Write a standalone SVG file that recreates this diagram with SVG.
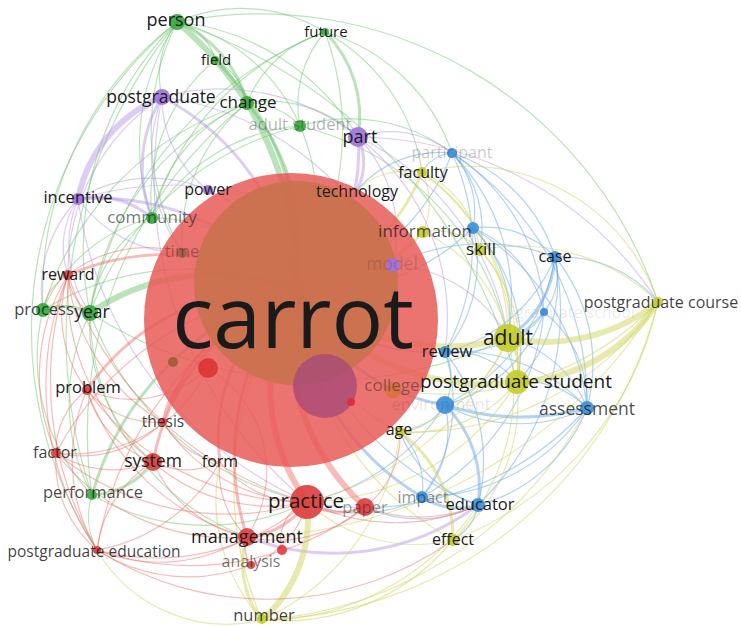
<svg xmlns="http://www.w3.org/2000/svg" width="741" height="626" viewBox="0 0 741 626">
<style>
#edges path{fill:none;stroke-linecap:round}
.r{stroke:#ee6a63;stroke-width:1.2;opacity:.45}
.g{stroke:#66c266;stroke-width:1.2;opacity:.45}
.b{stroke:#6aa8e6;stroke-width:1.2;opacity:.5}
.y{stroke:#cfd65a;stroke-width:1.2;opacity:.5}
.p{stroke:#b48ee6;stroke-width:1.2;opacity:.45}
#edges path.m{stroke-width:3}
#edges path.t{stroke-width:6}
.l{font-family:"Open Sans","Liberation Sans",sans-serif;fill:#1a1a1a;text-anchor:middle}
.nr{fill:#dd3c3c;opacity:.9}
.ng{fill:#34a83c;opacity:.9}
.nb{fill:#3a8ed8;opacity:.9}
.ny{fill:#c5cc28;opacity:.9}
.np{fill:#a072dc;opacity:.9}
</style>
<rect width="741" height="626" fill="#fff"/>
<g id="edges">
<g>
<path class="g" d="M177 22A50 50 0 0 1 215 60"/>
<path class="g m" d="M177 22A120 120 0 0 1 247 103"/>
<path class="g" d="M177 22A180 180 0 0 1 300 126"/>
<path class="g" d="M177 22A160 160 0 0 1 325 32"/>
<path class="g" d="M152 218A220 220 0 0 1 177 22"/>
<path class="g" d="M90 313A320 320 0 0 1 177 22"/>
<path class="g" d="M43 310A340 340 0 0 1 177 22"/>
<path class="g" d="M162 97A90 90 0 0 1 177 22"/>
<path class="g" d="M182 253A250 250 0 0 1 177 22"/>
<path class="g" d="M92 495A500 500 0 0 1 177 22"/>
<path class="g" d="M177 22A520 520 0 0 1 517 382"/>
<path class="g" d="M177 22A240 240 0 0 1 358 137"/>
<path class="g" d="M177 22A420 420 0 0 1 658 302"/>
<path class="g" d="M97 550A400 400 0 0 1 177 22"/>
<path class="g" d="M247 103A120 120 0 0 1 325 32"/>
<path class="g" d="M300 126A110 110 0 0 1 325 32"/>
<path class="g m" d="M325 32A120 120 0 0 1 358 137"/>
<path class="g" d="M152 218A280 280 0 0 1 325 32"/>
<path class="g" d="M90 313A380 380 0 0 1 325 32"/>
<path class="g" d="M325 32A190 190 0 0 1 422 172"/>
<path class="g" d="M325 32A190 190 0 0 1 452 153"/>
<path class="g" d="M215 60A60 60 0 0 1 247 103"/>
<path class="g" d="M152 218A180 180 0 0 1 215 60"/>
<path class="g" d="M247 103A70 70 0 0 1 300 126"/>
<path class="g" d="M152 218A160 160 0 0 1 247 103"/>
<path class="g" d="M90 313A270 270 0 0 1 247 103"/>
<path class="g" d="M43 310A310 310 0 0 1 247 103"/>
<path class="g" d="M92 495A420 420 0 0 1 247 103"/>
<path class="g" d="M182 253A180 180 0 0 1 247 103"/>
<path class="g" d="M247 103A130 130 0 0 1 358 137"/>
<path class="g" d="M152 218A190 190 0 0 1 300 126"/>
<path class="g" d="M90 313A300 300 0 0 1 300 126"/>
<path class="g" d="M300 126A170 170 0 0 1 452 153"/>
<path class="g m" d="M43 310A60 60 0 0 1 90 313"/>
<path class="g" d="M92 495A200 200 0 0 1 90 313"/>
<path class="g" d="M153 462A180 180 0 0 1 90 313"/>
<path class="g" d="M307 502A300 300 0 0 1 90 313"/>
<path class="g" d="M92 495A200 200 0 0 1 43 310"/>
<path class="g" d="M43 310A160 160 0 0 1 152 218"/>
<path class="g m" d="M153 462A80 80 0 0 1 92 495"/>
<path class="g" d="M97 550A70 70 0 0 1 92 495"/>
<path class="g" d="M90 313A130 130 0 0 1 152 218"/>
<path class="g" d="M300 126A280 280 0 0 1 508 338"/>
<path class="g" d="M508 338A430 430 0 0 1 90 313"/>
<path class="g" d="M247 537A240 240 0 0 1 90 313"/>
<path class="g" d="M307 502A230 230 0 0 1 92 495"/>
<path class="g t" d="M177 22A330 330 0 0 1 295 290"/>
<path class="g" d="M325 32A290 290 0 0 1 295 290"/>
<path class="g m" d="M215 60A270 270 0 0 1 295 290"/>
<path class="g m" d="M247 103A220 220 0 0 1 295 290"/>
<path class="g" d="M300 126A190 190 0 0 1 295 290"/>
<path class="g t" d="M90 313A220 220 0 0 1 295 290"/>
<path class="g" d="M152 218A180 180 0 0 1 295 290"/>
<path class="g m" d="M92 495A300 300 0 0 1 295 290"/>
<path class="g" d="M43 310A280 280 0 0 1 295 290"/>
</g>
<g>
<path class="p t" d="M78 199A140 140 0 0 1 162 97"/>
<path class="p" d="M208 190A115 115 0 0 1 162 97"/>
<path class="p m" d="M152 218A135 135 0 0 1 162 97"/>
<path class="p m" d="M162 97A250 250 0 0 1 295 290"/>
<path class="p" d="M162 97A220 220 0 0 1 358 137"/>
<path class="p" d="M182 253A170 170 0 0 1 162 97"/>
<path class="p" d="M162 97A300 300 0 0 1 393 265"/>
<path class="p" d="M68 275A210 210 0 0 1 162 97"/>
<path class="p m" d="M78 199A85 85 0 0 1 152 218"/>
<path class="p" d="M68 275A85 85 0 0 1 78 199"/>
<path class="p" d="M43 310A130 130 0 0 1 78 199"/>
<path class="p m" d="M78 199A260 260 0 0 1 295 290"/>
<path class="p" d="M78 199A140 140 0 0 1 208 190"/>
<path class="p" d="M182 253A130 130 0 0 1 78 199"/>
<path class="p" d="M78 199A340 340 0 0 1 393 265"/>
<path class="p" d="M358 137A140 140 0 0 1 393 265"/>
<path class="p" d="M358 137A100 100 0 0 1 452 153"/>
<path class="p m" d="M358 137A60 60 0 0 1 357 190"/>
<path class="p m" d="M358 137A180 180 0 0 1 295 290"/>
<path class="p" d="M358 137A360 360 0 0 1 658 302"/>
<path class="p" d="M358 137A270 270 0 0 1 508 338"/>
<path class="p" d="M208 190A150 150 0 0 1 295 290"/>
<path class="p" d="M393 265A140 140 0 0 1 508 338"/>
<path class="p" d="M307 502A420 420 0 0 1 162 97"/>
<path class="p" d="M307 502A390 390 0 0 1 78 199"/>
<path class="p m" d="M478 505A240 240 0 0 1 247 537"/>
<path class="p" d="M90 313A120 120 0 0 1 78 199"/>
<path class="p" d="M358 137A230 230 0 0 1 445 352"/>
</g>
<g>
<path class="b" d="M422 172A40 40 0 0 1 452 153"/>
<path class="b" d="M452 153A85 85 0 0 1 473 228"/>
<path class="b" d="M452 153A160 160 0 0 1 555 257"/>
<path class="b" d="M452 153A110 110 0 0 1 480 250"/>
<path class="b" d="M452 153A200 200 0 0 1 544 312"/>
<path class="b" d="M452 153A220 220 0 0 1 445 352"/>
<path class="b" d="M452 153A220 220 0 0 1 295 290"/>
<path class="b" d="M452 153A300 300 0 0 1 587 408"/>
<path class="b" d="M452 153A210 210 0 0 1 508 338"/>
<path class="b" d="M357 190A110 110 0 0 1 452 153"/>
<path class="b" d="M473 228A95 95 0 0 1 555 257"/>
<path class="b" d="M473 228A120 120 0 0 1 544 312"/>
<path class="b" d="M473 228A140 140 0 0 1 445 352"/>
<path class="b" d="M473 228A125 125 0 0 1 508 338"/>
<path class="b" d="M473 228A170 170 0 0 1 517 382"/>
<path class="b" d="M473 228A240 240 0 0 1 587 408"/>
<path class="b" d="M473 228A220 220 0 0 1 295 290"/>
<path class="b" d="M555 257A60 60 0 0 1 544 312"/>
<path class="b m" d="M555 257A105 105 0 0 1 508 338"/>
<path class="b" d="M555 257A140 140 0 0 1 517 382"/>
<path class="b" d="M555 257A170 170 0 0 1 587 408"/>
<path class="b" d="M555 257A160 160 0 0 1 445 352"/>
<path class="b" d="M555 257A200 200 0 0 1 445 405"/>
<path class="b" d="M555 257A270 270 0 0 1 478 505"/>
<path class="b" d="M555 257A125 125 0 0 1 658 302"/>
<path class="b" d="M544 312A115 115 0 0 1 445 352"/>
<path class="b" d="M544 312A145 145 0 0 1 445 405"/>
<path class="b" d="M544 312A115 115 0 0 1 587 408"/>
<path class="b" d="M544 312A55 55 0 0 1 508 338"/>
<path class="b" d="M544 312A240 240 0 0 1 422 497"/>
<path class="b" d="M445 352A60 60 0 0 1 445 405"/>
<path class="b" d="M445 352A85 85 0 0 1 517 382"/>
<path class="b" d="M445 352A175 175 0 0 1 587 408"/>
<path class="b" d="M445 352A175 175 0 0 1 478 505"/>
<path class="b" d="M445 352A160 160 0 0 1 422 497"/>
<path class="b" d="M445 352A180 180 0 0 1 295 290"/>
<path class="b m" d="M587 408A250 250 0 0 1 445 405"/>
<path class="b" d="M587 408A155 155 0 0 1 445 405"/>
<path class="b m" d="M445 405A115 115 0 0 1 478 505"/>
<path class="b" d="M445 405A100 100 0 0 1 422 497"/>
<path class="b" d="M445 405A60 60 0 0 1 400 432"/>
<path class="b m" d="M445 405A200 200 0 0 1 295 290"/>
<path class="b" d="M587 408A160 160 0 0 1 478 505"/>
<path class="b" d="M587 408A200 200 0 0 1 422 497"/>
<path class="b" d="M517 382A85 85 0 0 1 587 408"/>
<path class="b" d="M508 338A115 115 0 0 1 587 408"/>
<path class="b m" d="M478 505A65 65 0 0 1 422 497"/>
<path class="b" d="M478 505A50 50 0 0 1 453 540"/>
<path class="b" d="M478 505A125 125 0 0 1 400 432"/>
<path class="b" d="M478 505A290 290 0 0 1 295 290"/>
<path class="b m" d="M422 497A260 260 0 0 1 295 290"/>
<path class="b" d="M422 497A130 130 0 0 1 307 502"/>
<path class="b" d="M400 432A75 75 0 0 1 422 497"/>
<path class="b" d="M587 408A300 300 0 0 1 307 502"/>
<path class="b" d="M478 505A130 130 0 0 1 365 507"/>
<path class="b" d="M393 265A200 200 0 0 1 555 257"/>
<path class="b" d="M445 405A220 220 0 0 1 307 502"/>
</g>
<g>
<path class="y" d="M422 172A70 70 0 0 1 423 232"/>
<path class="y" d="M422 172A100 100 0 0 1 480 250"/>
<path class="y" d="M422 172A200 200 0 0 1 508 338"/>
<path class="y m" d="M422 172A200 200 0 0 1 295 290"/>
<path class="y" d="M422 172A240 240 0 0 1 517 382"/>
<path class="y" d="M357 190A75 75 0 0 1 422 172"/>
<path class="y" d="M423 232A60 60 0 0 1 480 250"/>
<path class="y" d="M423 232A150 150 0 0 1 508 338"/>
<path class="y m" d="M423 232A170 170 0 0 1 295 290"/>
<path class="y" d="M480 250A105 105 0 0 1 508 338"/>
<path class="y" d="M480 250A150 150 0 0 1 517 382"/>
<path class="y" d="M480 250A200 200 0 0 1 658 302"/>
<path class="y t" d="M658 302A180 180 0 0 1 508 338"/>
<path class="y t" d="M658 302A175 175 0 0 1 517 382"/>
<path class="y m" d="M508 338A50 50 0 0 1 517 382"/>
<path class="y t" d="M508 338A230 230 0 0 1 295 290"/>
<path class="y t" d="M517 382A240 240 0 0 1 295 290"/>
<path class="y" d="M508 338A160 160 0 0 1 400 432"/>
<path class="y" d="M517 382A135 135 0 0 1 400 432"/>
<path class="y m" d="M400 432A130 130 0 0 1 453 540"/>
<path class="y" d="M400 432A240 240 0 0 1 262 620"/>
<path class="y" d="M453 540A220 220 0 0 1 262 620"/>
<path class="y" d="M453 540A310 310 0 0 1 295 290"/>
<path class="y" d="M453 540A160 160 0 0 1 307 502"/>
<path class="y" d="M517 382A180 180 0 0 1 453 540"/>
<path class="y" d="M508 338A220 220 0 0 1 453 540"/>
<path class="y t" d="M307 502A135 135 0 0 1 262 620"/>
<path class="y m" d="M262 620A90 90 0 0 1 247 537"/>
<path class="y" d="M262 620A340 340 0 0 1 295 290"/>
<path class="y" d="M262 620A180 180 0 0 1 220 462"/>
<path class="y" d="M262 620A150 150 0 0 1 97 550"/>
<path class="y" d="M658 302A420 420 0 0 1 262 620"/>
<path class="y" d="M587 408A400 400 0 0 1 262 620"/>
<path class="y" d="M658 302A300 300 0 0 1 400 432"/>
<path class="y" d="M658 302A330 330 0 0 1 453 540"/>
<path class="y" d="M658 302A300 300 0 0 1 393 390"/>
<path class="y" d="M422 172A200 200 0 0 1 658 302"/>
<path class="y" d="M478 505A260 260 0 0 1 262 620"/>
<path class="y" d="M517 382A250 250 0 0 1 307 502"/>
<path class="y" d="M508 338A300 300 0 0 1 307 502"/>
<path class="y" d="M400 432A190 190 0 0 1 295 290"/>
<path class="y" d="M658 302A500 500 0 0 1 247 537"/>
</g>
<g>
<path class="r" d="M43 310A50 50 0 0 1 68 275"/>
<path class="r" d="M90 313A50 50 0 0 1 68 275"/>
<path class="r" d="M87 390A125 125 0 0 1 68 275"/>
<path class="r" d="M56 453A190 190 0 0 1 68 275"/>
<path class="r" d="M153 462A220 220 0 0 1 68 275"/>
<path class="r m" d="M68 275A250 250 0 0 1 295 290"/>
<path class="r" d="M97 550A290 290 0 0 1 68 275"/>
<path class="r" d="M163 422A190 190 0 0 1 68 275"/>
<path class="r" d="M68 275A125 125 0 0 1 182 253"/>
<path class="r" d="M56 453A75 75 0 0 1 87 390"/>
<path class="r" d="M153 462A105 105 0 0 1 87 390"/>
<path class="r" d="M163 422A90 90 0 0 1 87 390"/>
<path class="r m" d="M87 390A230 230 0 0 1 295 290"/>
<path class="r" d="M97 550A175 175 0 0 1 87 390"/>
<path class="r" d="M307 502A270 270 0 0 1 87 390"/>
<path class="r" d="M247 537A235 235 0 0 1 87 390"/>
<path class="r" d="M97 550A115 115 0 0 1 56 453"/>
<path class="r" d="M153 462A105 105 0 0 1 56 453"/>
<path class="r" d="M247 537A220 220 0 0 1 56 453"/>
<path class="r" d="M307 502A270 270 0 0 1 56 453"/>
<path class="r" d="M56 453A310 310 0 0 1 295 290"/>
<path class="r" d="M163 422A115 115 0 0 1 56 453"/>
<path class="r" d="M220 462A75 75 0 0 1 153 462"/>
<path class="r" d="M307 502A175 175 0 0 1 153 462"/>
<path class="r" d="M247 537A130 130 0 0 1 153 462"/>
<path class="r" d="M97 550A120 120 0 0 1 153 462"/>
<path class="r m" d="M153 462A230 230 0 0 1 295 290"/>
<path class="r" d="M220 462A80 80 0 0 1 163 422"/>
<path class="r" d="M307 502A175 175 0 0 1 163 422"/>
<path class="r m" d="M163 422A200 200 0 0 1 295 290"/>
<path class="r" d="M247 537A165 165 0 0 1 97 550"/>
<path class="r" d="M307 502A230 230 0 0 1 97 550"/>
<path class="r" d="M251 565A170 170 0 0 1 97 550"/>
<path class="r" d="M365 507A290 290 0 0 1 97 550"/>
<path class="r" d="M220 462A175 175 0 0 1 97 550"/>
<path class="r" d="M97 550A350 350 0 0 1 295 290"/>
<path class="r m" d="M307 502A80 80 0 0 1 247 537"/>
<path class="r" d="M251 565A30 30 0 0 1 247 537"/>
<path class="r" d="M365 507A135 135 0 0 1 247 537"/>
<path class="r m" d="M247 537A260 260 0 0 1 295 290"/>
<path class="r" d="M247 537A90 90 0 0 1 220 462"/>
<path class="r m" d="M365 507A60 60 0 0 1 307 502"/>
<path class="r t" d="M307 502A200 200 0 0 1 295 290"/>
<path class="r" d="M307 502A105 105 0 0 1 220 462"/>
<path class="r t" d="M365 507A230 230 0 0 1 295 290"/>
<path class="r" d="M400 432A90 90 0 0 1 365 507"/>
<path class="r" d="M307 502A90 90 0 0 1 251 565"/>
<path class="r m" d="M220 462A180 180 0 0 1 295 290"/>
<path class="r" d="M182 253A125 125 0 0 1 295 290"/>
<path class="r" d="M307 502A350 350 0 0 1 68 275"/>
<path class="r" d="M453 540A320 320 0 0 1 97 550"/>
<path class="r" d="M478 505A150 150 0 0 1 365 507"/>
<path class="r" d="M478 505A200 200 0 0 1 307 502"/>
<path class="r" d="M282 550A40 40 0 0 1 307 502"/>
<path class="r" d="M208 368A120 120 0 0 1 247 537"/>
<path class="r" d="M208 368A110 110 0 0 1 87 390"/>
<path class="r" d="M208 368A150 150 0 0 1 56 453"/>
<path class="r" d="M163 422A60 60 0 0 1 208 368"/>
<path class="r" d="M97 550A330 330 0 0 1 68 275"/>
</g>
</g>
<g id="node-carrot">
<circle cx="291" cy="320" r="147" fill="#e85a57" opacity=".85"/>
<circle cx="296" cy="283" r="102" fill="#c8724c" opacity=".88"/>
<circle cx="325" cy="386" r="32" fill="#a84a78" opacity=".8"/>
<circle cx="208" cy="368" r="10" fill="#dd3434" opacity=".9"/>
<circle cx="173" cy="362" r="5" fill="#a35a3a" opacity=".9"/>
<circle cx="351" cy="402" r="4" fill="#e02a3a" opacity=".9"/>
<text class="l" x="293" y="348" font-size="86">carrot</text>
</g>
<g id="node-person"><circle class="ng" cx="177" cy="22" r="8"/><text class="l" x="176" y="26" font-size="18">person</text></g>
<g id="node-field"><circle class="ng" cx="215" cy="60" r="4"/><text class="l" x="216" y="65" font-size="15">field</text></g>
<g id="node-future"><circle class="ng" cx="325" cy="32" r="4"/><text class="l" x="326" y="37" font-size="15">future</text></g>
<g id="node-postgraduate"><circle class="np" cx="162" cy="97" r="8"/><text class="l" x="161" y="103" font-size="17.5">postgraduate</text></g>
<g id="node-change"><circle class="ng" cx="247" cy="103" r="7"/><text class="l" x="248" y="108" font-size="17">change</text></g>
<g id="node-adult-student"><circle class="ng" cx="300" cy="126" r="6"/><text class="l" x="300" y="130" font-size="16.5" fill-opacity=".35">adult student</text></g>
<g id="node-part"><circle class="np" cx="358" cy="137" r="10"/><text class="l" x="360" y="143" font-size="18">part</text></g>
<g id="node-participant"><circle class="nb" cx="452" cy="153" r="5"/><text class="l" x="452" y="158" font-size="16" fill-opacity=".25">participant</text></g>
<g id="node-faculty"><circle class="ny" cx="422" cy="172" r="5"/><text class="l" x="423" y="178" font-size="16">faculty</text></g>
<g id="node-technology"><text class="l" x="357" y="197" font-size="16">technology</text></g>
<g id="node-power"><circle class="np" cx="208" cy="190" r="5" opacity=".4"/><text class="l" x="208" y="195" font-size="16">power</text></g>
<g id="node-incentive"><circle class="np" cx="78" cy="199" r="6"/><text class="l" x="78" y="203" font-size="16.5">incentive</text></g>
<g id="node-community"><circle class="ng" cx="152" cy="218" r="6"/><text class="l" x="152" y="223" font-size="17" fill-opacity=".62">community</text></g>
<g id="node-time"><circle cx="182" cy="253" r="5" fill="#8a5a3a" opacity=".7"/><text class="l" x="182" y="257" font-size="16.5" fill-opacity=".38">time</text></g>
<g id="node-information"><circle class="ny" cx="423" cy="232" r="6"/><circle class="nb" cx="473" cy="228" r="6"/><text class="l" x="425" y="237" font-size="17" fill-opacity=".75">information</text></g>
<g id="node-skill"><circle class="ny" cx="480" cy="250" r="6"/><text class="l" x="481" y="255" font-size="17">skill</text></g>
<g id="node-case"><circle class="nb" cx="555" cy="257" r="6"/><text class="l" x="555" y="262" font-size="16">case</text></g>
<g id="node-model"><circle class="np" cx="393" cy="265" r="7" opacity=".35"/><text class="l" x="392" y="270" font-size="17.5" fill-opacity=".18">model</text></g>
<g id="node-reward"><circle class="nr" cx="68" cy="275" r="5"/><text class="l" x="68" y="280" font-size="16">reward</text></g>
<g id="node-graduate-school"><circle class="nb" cx="544" cy="312" r="4"/><text class="l" x="575" y="318" font-size="16" fill-opacity=".1">graduate school</text></g>
<g id="node-postgraduate-course"><circle class="ny" cx="658" cy="302" r="5"/><text class="l" x="661" y="308" font-size="16" fill-opacity=".85">postgraduate course</text></g>
<g id="node-process"><circle class="ng" cx="43" cy="310" r="7"/><text class="l" x="44" y="315" font-size="16.5" fill-opacity=".85">process</text></g>
<g id="node-year"><circle class="ng" cx="90" cy="313" r="8"/><text class="l" x="92" y="318" font-size="17.5">year</text></g>
<g id="node-adult"><circle class="ny" cx="508" cy="338" r="14"/><text class="l" x="508" y="345" font-size="21">adult</text></g>
<g id="node-review"><circle class="nb" cx="445" cy="352" r="6"/><text class="l" x="447" y="357" font-size="16.5">review</text></g>
<g id="node-postgraduate-student"><circle class="ny" cx="517" cy="382" r="12"/><text class="l" x="516" y="388" font-size="19">postgraduate student</text></g>
<g id="node-college"><circle cx="393" cy="390" r="8" fill="#d0722a" opacity=".6"/><text class="l" x="392" y="391" font-size="17" fill="#5a0a0a" fill-opacity=".45">college</text></g>
<g id="node-environment"><circle class="nb" cx="445" cy="405" r="9"/><text class="l" x="441" y="410" font-size="16.5" fill-opacity=".12">environment</text></g>
<g id="node-assessment"><circle class="nb" cx="587" cy="408" r="7"/><text class="l" x="587" y="415" font-size="17.5" fill-opacity=".8">assessment</text></g>
<g id="node-problem"><circle class="nr" cx="87" cy="390" r="5"/><text class="l" x="88" y="393" font-size="16.5">problem</text></g>
<g id="node-thesis"><circle class="nr" cx="163" cy="422" r="4"/><text class="l" x="163" y="427" font-size="15.5" fill-opacity=".85">thesis</text></g>
<g id="node-age"><circle class="ny" cx="400" cy="432" r="5"/><text class="l" x="399" y="435" font-size="16">age</text></g>
<g id="node-factor"><circle class="nr" cx="56" cy="453" r="5"/><text class="l" x="55" y="458" font-size="16" fill-opacity=".85">factor</text></g>
<g id="node-system"><circle class="nr" cx="153" cy="462" r="9"/><text class="l" x="153" y="467" font-size="17.5">system</text></g>
<g id="node-form"><text class="l" x="220" y="467" font-size="16">form</text></g>
<g id="node-performance"><circle class="ng" cx="92" cy="495" r="5"/><text class="l" x="93" y="498" font-size="16.5" fill-opacity=".8">performance</text></g>
<g id="node-impact"><circle class="nb" cx="422" cy="497" r="6"/><text class="l" x="423" y="503" font-size="16" fill-opacity=".5">impact</text></g>
<g id="node-practice"><circle class="nr" cx="307" cy="502" r="17"/><text class="l" x="306" y="508" font-size="20.5">practice</text></g>
<g id="node-paper"><circle class="nr" cx="365" cy="507" r="9"/><text class="l" x="365" y="513" font-size="16.5" fill-opacity=".45">paper</text></g>
<g id="node-educator"><circle class="nb" cx="478" cy="505" r="7"/><text class="l" x="480" y="510" font-size="16.5">educator</text></g>
<g id="node-effect"><circle class="ny" cx="453" cy="540" r="6"/><text class="l" x="453" y="545" font-size="16">effect</text></g>
<g id="node-management"><circle class="nr" cx="247" cy="537" r="9"/><circle class="nr" cx="282" cy="550" r="5"/><text class="l" x="247" y="543" font-size="18">management</text></g>
<g id="node-analysis"><circle class="nr" cx="251" cy="565" r="4"/><text class="l" x="251" y="567" font-size="16" fill-opacity=".6">analysis</text></g>
<g id="node-postgraduate-education"><circle class="nr" cx="97" cy="550" r="4"/><text class="l" x="94" y="557" font-size="15.5" fill-opacity=".85">postgraduate education</text></g>
<g id="node-number"><circle class="ny" cx="262" cy="619" r="5"/><text class="l" x="264" y="621" font-size="16.5" fill-opacity=".85">number</text></g>
</svg>
